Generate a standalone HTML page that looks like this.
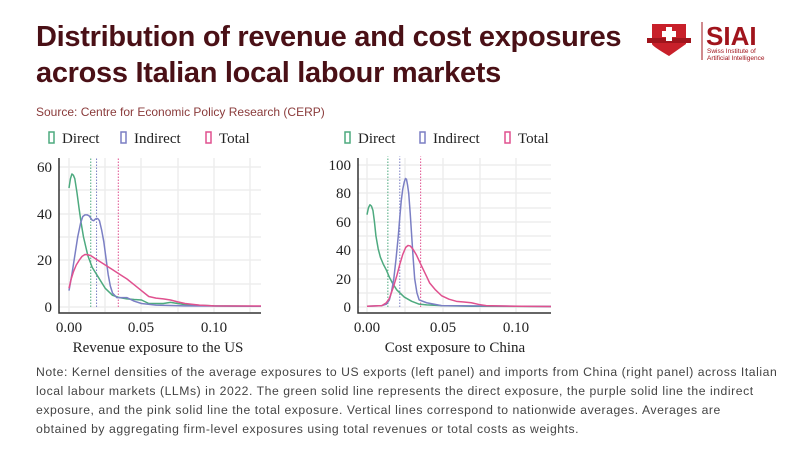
<!DOCTYPE html>
<html><head><meta charset="utf-8"><style>
body{margin:0;width:800px;height:450px;background:#fff;font-family:"Liberation Sans",sans-serif;overflow:hidden;position:relative}
.t{position:absolute;left:36px;top:19px;font-size:29px;font-weight:bold;color:#4a1016;line-height:36px;letter-spacing:-0.3px}
.s{position:absolute;left:36px;top:105px;font-size:12px;color:#8a3b3b}
.n{position:absolute;left:36px;top:363px;font-size:12.2px;letter-spacing:0.55px;color:#444;line-height:19px;white-space:nowrap}
</style></head><body>
<div class="t">Distribution of revenue and cost exposures<br>across Italian local labour markets</div>
<div class="s">Source: Centre for Economic Policy Research (CERP)</div>
<svg style="position:absolute;left:0;top:0" width="800" height="450">
<defs><clipPath id="cl"><rect x="59" y="150" width="202" height="162"/></clipPath>
<clipPath id="cr"><rect x="358" y="150" width="193" height="162"/></clipPath></defs>
<path d="M652,24 L686,24 L686,44 Q669,56 669,56 Q652,46 652,44Z" fill="#c8202a"/>
<rect x="647" y="38" width="44" height="5" fill="#a0141c"/>
<rect x="666" y="27" width="6" height="14" fill="#fff"/><rect x="662" y="31" width="14" height="6" fill="#fff"/>
<line x1="702" y1="22" x2="702" y2="60" stroke="#a0141c"/>
<text x="706" y="45" font-size="26" font-weight="bold" fill="#a0141c" font-family="Liberation Sans">SIAI</text>
<text x="707" y="53" font-size="6.5" fill="#a0141c">Swiss Institute of</text>
<text x="707" y="60" font-size="6.5" fill="#a0141c">Artificial Intelligence</text>
<g font-family="Liberation Serif" font-size="15" fill="#222">
<rect x="49" y="132" width="5" height="11" fill="none" stroke="#4daa7f" stroke-width="1.5"/><text x="62" y="143">Direct</text>
<rect x="121" y="132" width="5" height="11" fill="none" stroke="#7b7fc4" stroke-width="1.5"/><text x="134" y="143">Indirect</text>
<rect x="206" y="132" width="5" height="11" fill="none" stroke="#e0518f" stroke-width="1.5"/><text x="219" y="143">Total</text>
<rect x="345" y="132" width="5" height="11" fill="none" stroke="#4daa7f" stroke-width="1.5"/><text x="358" y="143">Direct</text>
<rect x="420" y="132" width="5" height="11" fill="none" stroke="#7b7fc4" stroke-width="1.5"/><text x="433" y="143">Indirect</text>
<rect x="505" y="132" width="5" height="11" fill="none" stroke="#e0518f" stroke-width="1.5"/><text x="518" y="143">Total</text>
<g stroke="#ebebeb" stroke-width="1.3">
<line x1="59" x2="261" y1="307" y2="307"/><line x1="59" x2="261" y1="284" y2="284"/><line x1="59" x2="261" y1="260" y2="260"/><line x1="59" x2="261" y1="237" y2="237"/><line x1="59" x2="261" y1="214" y2="214"/><line x1="59" x2="261" y1="190" y2="190"/><line x1="59" x2="261" y1="167" y2="167"/>
<line y1="158" y2="312" x1="69" x2="69"/><line y1="158" y2="312" x1="105" x2="105"/><line y1="158" y2="312" x1="141" x2="141"/><line y1="158" y2="312" x1="178" x2="178"/><line y1="158" y2="312" x1="214" x2="214"/><line y1="158" y2="312" x1="250" x2="250"/>
</g>
<g stroke="#ebebeb" stroke-width="1.3">
<line x1="358" x2="551" y1="307" y2="307"/><line x1="358" x2="551" y1="293" y2="293"/><line x1="358" x2="551" y1="279" y2="279"/><line x1="358" x2="551" y1="264" y2="264"/><line x1="358" x2="551" y1="250" y2="250"/><line x1="358" x2="551" y1="236" y2="236"/><line x1="358" x2="551" y1="222" y2="222"/><line x1="358" x2="551" y1="208" y2="208"/><line x1="358" x2="551" y1="193" y2="193"/><line x1="358" x2="551" y1="179" y2="179"/><line x1="358" x2="551" y1="165" y2="165"/>
<line y1="158" y2="312" x1="367" x2="367"/><line y1="158" y2="312" x1="405" x2="405"/><line y1="158" y2="312" x1="443" x2="443"/><line y1="158" y2="312" x1="480" x2="480"/><line y1="158" y2="312" x1="516" x2="516"/>
</g>
<g clip-path="url(#cl)"><g transform="translate(69,307) scale(1450,-2.333)" fill="none" stroke-width="1.5" stroke-linejoin="round">
<line x1="0.015" x2="0.015" y1="0" y2="64" stroke="#4daa7f" stroke-dasharray="1.5 1.5" vector-effect="non-scaling-stroke" stroke-width="1"/>
<line x1="0.019" x2="0.019" y1="0" y2="64" stroke="#7b7fc4" stroke-dasharray="1.5 1.5" vector-effect="non-scaling-stroke" stroke-width="1"/>
<line x1="0.034" x2="0.034" y1="0" y2="64" stroke="#e0518f" stroke-dasharray="1.5 1.5" vector-effect="non-scaling-stroke" stroke-width="1"/>
<polyline vector-effect="non-scaling-stroke" stroke="#4daa7f" points="0,51 0.001,55 0.002,57 0.003,56.5 0.004,55 0.0055,49 0.007,42 0.0085,35.5 0.01,30 0.013,22 0.016,17 0.02,13 0.025,8 0.03,5 0.035,4 0.04,3.5 0.045,3.2 0.05,3 0.055,1.5 0.065,1.5 0.07,2 0.08,1 0.1,0.5 0.135,0.3"/>
<polyline vector-effect="non-scaling-stroke" stroke="#7b7fc4" points="0,7 0.002,14 0.004,22 0.006,30 0.008,36 0.0095,38.8 0.011,39.5 0.0125,39.5 0.014,39 0.016,37.2 0.017,37 0.018,37.6 0.019,38 0.02,37.8 0.021,37 0.0225,33 0.024,28 0.0255,21 0.027,14 0.0285,9 0.03,6 0.033,4 0.037,4 0.04,4 0.045,2.5 0.05,1.5 0.06,0.8 0.08,0.5 0.135,0.3"/>
<polyline vector-effect="non-scaling-stroke" stroke="#e0518f" points="0,8 0.0015,12 0.003,15 0.005,18 0.007,20 0.009,21.7 0.011,22.5 0.013,22.4 0.015,22 0.02,20 0.025,18 0.03,16 0.035,14 0.04,12 0.045,9.5 0.05,7 0.055,4.5 0.06,3.8 0.065,3.5 0.07,3 0.075,2.2 0.08,1.5 0.09,0.8 0.1,0.5 0.135,0.4"/>
</g></g>
<g clip-path="url(#cr)"><g transform="translate(367,307) scale(1490,-1.42)" fill="none" stroke-width="1.5" stroke-linejoin="round">
<line x1="0.014" x2="0.014" y1="0" y2="106" stroke="#4daa7f" stroke-dasharray="1.5 1.5" vector-effect="non-scaling-stroke" stroke-width="1"/>
<line x1="0.022" x2="0.022" y1="0" y2="106" stroke="#7b7fc4" stroke-dasharray="1.5 1.5" vector-effect="non-scaling-stroke" stroke-width="1"/>
<line x1="0.036" x2="0.036" y1="0" y2="106" stroke="#e0518f" stroke-dasharray="1.5 1.5" vector-effect="non-scaling-stroke" stroke-width="1"/>
<polyline vector-effect="non-scaling-stroke" stroke="#4daa7f" points="0,65 0.001,70 0.002,72 0.003,71 0.004,68 0.005,60 0.006,50 0.0075,41 0.009,35 0.011,30 0.013,26 0.015,21 0.017,17 0.02,12 0.025,7 0.03,4 0.035,2 0.04,1.5 0.05,1 0.07,0.5 0.135,0.3"/>
<polyline vector-effect="non-scaling-stroke" stroke="#7b7fc4" points="0,0.5 0.01,1 0.013,2 0.015,5 0.0165,11 0.018,20 0.0195,34 0.021,50 0.022,63 0.023,75 0.024,83 0.025,88 0.0258,90.5 0.0265,90 0.0272,86 0.028,80 0.029,66 0.03,50 0.031,34 0.032,20 0.0335,10 0.035,5 0.04,3 0.05,1 0.135,0.3"/>
<polyline vector-effect="non-scaling-stroke" stroke="#e0518f" points="0,0.5 0.01,1 0.013,3 0.015,6 0.018,15 0.02,22 0.022,30 0.024,37 0.026,42 0.0275,43.3 0.029,43 0.031,40.5 0.033,37 0.035,32.5 0.037,28 0.04,21.5 0.042,17 0.046,12 0.05,8 0.055,5.5 0.06,4 0.065,3.5 0.07,3 0.075,1.8 0.08,1 0.1,0.5 0.135,0.3"/>
</g></g>
<g stroke="#333" stroke-width="1.5" fill="none">
<polyline points="59,158 59,313 261,313"/><polyline points="358,158 358,313 551,313"/>
</g>
<g text-anchor="end">
<text x="52" y="312">0</text><text x="52" y="265">20</text><text x="52" y="219">40</text><text x="52" y="172">60</text>
<text x="351" y="312">0</text><text x="351" y="284">20</text><text x="351" y="255">40</text><text x="351" y="227">60</text><text x="351" y="198">80</text><text x="351" y="170">100</text>
</g>
<g text-anchor="middle">
<text x="69" y="332">0.00</text><text x="141" y="332">0.05</text><text x="214" y="332">0.10</text>
<text x="367" y="332">0.00</text><text x="443" y="332">0.05</text><text x="516" y="332">0.10</text>
<text x="158" y="352">Revenue exposure to the US</text>
<text x="455" y="352">Cost exposure to China</text>
</g>
</g>
</svg>
<div class="n">Note: Kernel densities of the average exposures to US exports (left panel) and imports from China (right panel) across Italian<br>local labour markets (LLMs) in 2022. The green solid line represents the direct exposure, the purple solid line the indirect<br>exposure, and the pink solid line the total exposure. Vertical lines correspond to nationwide averages. Averages are<br>obtained by aggregating firm-level exposures using total revenues or total costs as weights.</div>
</body></html>
